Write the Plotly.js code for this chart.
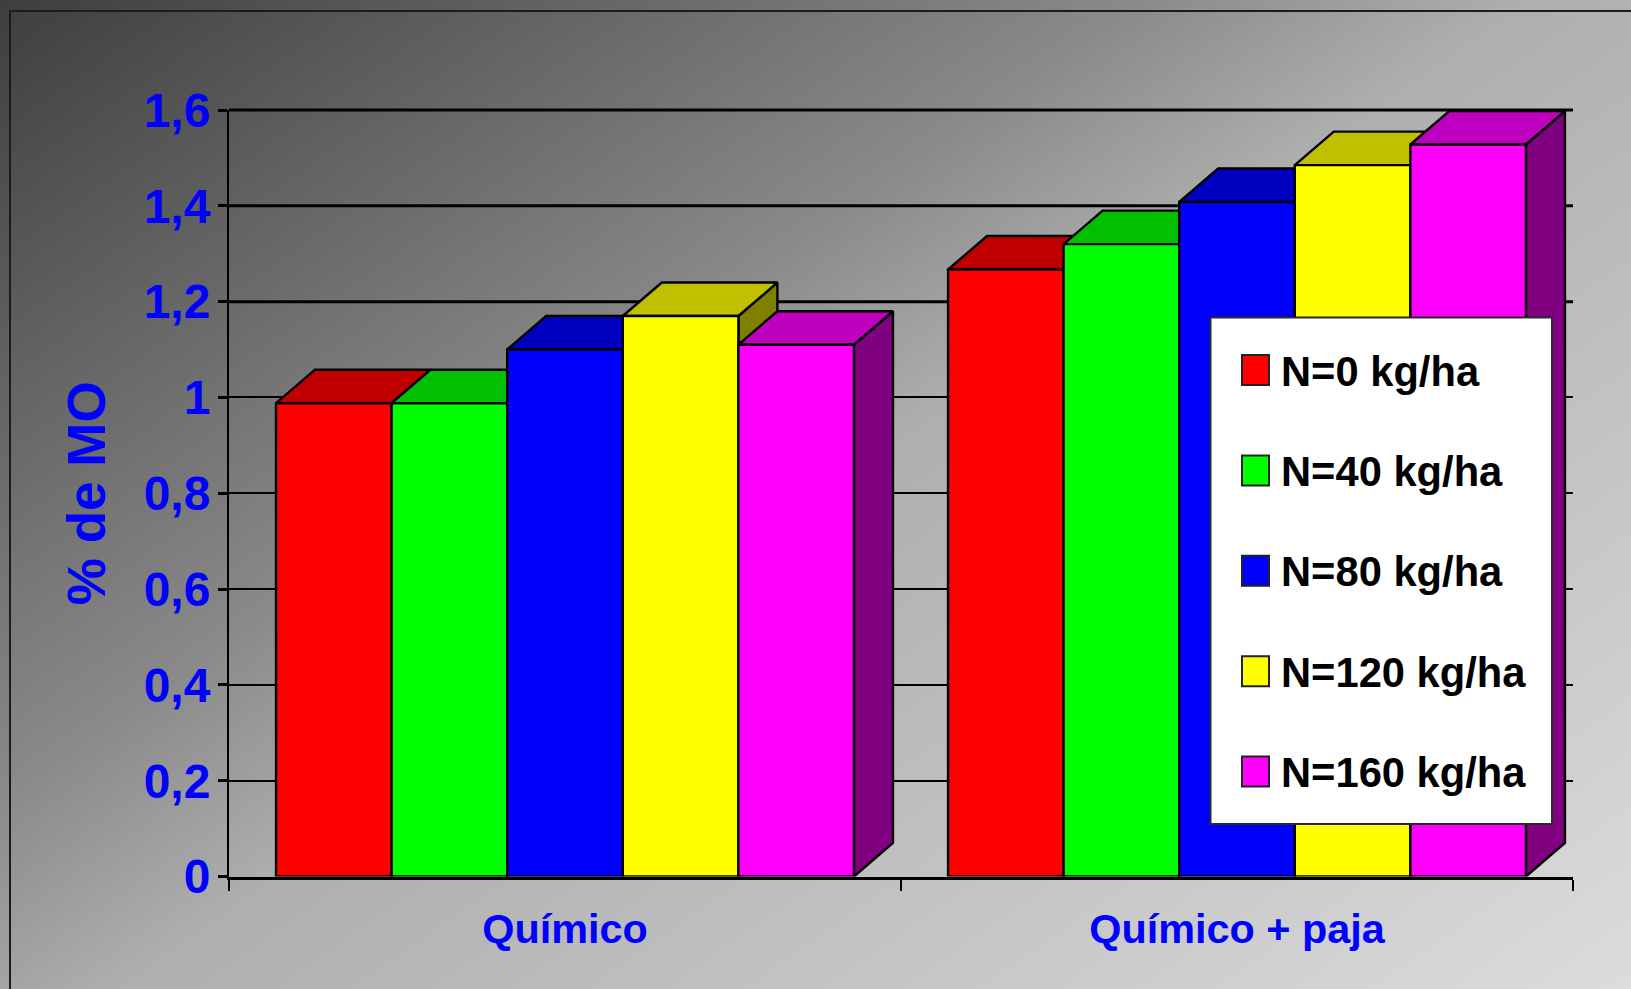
<!DOCTYPE html>
<html><head><meta charset="utf-8">
<script src="https://cdn.plot.ly/plotly-3.0.1.min.js"></script>
<style>
html,body{margin:0;padding:0;width:1631px;height:989px;overflow:hidden;
background:linear-gradient(145deg,#3e3e3e 0%,#8a8a8a 37.5%,#aeaeae 50%,#dcdcdc 100%);}
</style></head><body><div id="chart" style="width:1631px;height:989px"></div>
<script>
const categories = ['Químico', 'Químico + paja'];
const categoryPositions = [0.5, 1.5];
const seriesNames = ['N=0 kg/ha', 'N=40 kg/ha', 'N=80 kg/ha', 'N=120 kg/ha', 'N=160 kg/ha'];
const n0 = [0.988, 1.267];
const n40 = [0.988, 1.32];
const n80 = [1.10, 1.408];
const n120 = [1.17, 1.485];
const n160 = [1.11, 1.528];
const seriesValues = [n0, n40, n80, n120, n160];
const frontColors = ['#FF0000', '#00FF00', '#0000FF', '#FFFF00', '#FF00FF'];
const topColors = ['#C00000', '#00C000', '#0000C0', '#C0C000', '#C000C0'];
const sideColors = ['#800000', '#008000', '#000080', '#808000', '#800080'];
const yTicks = [0, 0.2, 0.4, 0.6, 0.8, 1, 1.2, 1.4, 1.6];
const yTickText = ['0', '0,2', '0,4', '0,6', '0,8', '1', '1,2', '1,4', '1,6'];
const heavyGridValues = [1.2, 1.4, 1.6];

const W = 1631, H = 989;
const L = 229, R = 1573, T = 110, B = 876.5;
const px = v => v / W, py = v => 1 - v / H;
const BLUE = '#0000FF', FONT = '"Liberation Sans", Arial, sans-serif';
const bargap = 0.14, barW = (1 - bargap) / 5;
const depthX = 39 / ((R - L) / 2), depthY = 33.5 / ((B - T) / 1.6);

const traces = [];
seriesValues.forEach((vals, s) => {
  const sx = [], sy = [], tx = [], ty = [];
  vals.forEach((v, c) => {
    const x0 = categoryPositions[c] + (s - 2.5) * barW, x1 = x0 + barW;
    sx.push(x1, x1 + depthX, x1 + depthX, x1, x1, null);
    sy.push(0, depthY, v + depthY, v, 0, null);
    tx.push(x0, x0 + depthX, x1 + depthX, x1, x0, null);
    ty.push(v, v + depthY, v + depthY, v, v, null);
  });
  const poly = (x, y, color) => ({
    type: 'scatter', mode: 'lines', x, y, fill: 'toself', fillcolor: color,
    line: {color: '#000', width: 2.4}, cliponaxis: false, showlegend: false,
    hoverinfo: 'skip', xaxis: 'x', yaxis: 'y'
  });
  traces.push(poly(sx, sy, sideColors[s]));
  traces.push(poly(tx, ty, topColors[s]));
});
seriesValues.forEach((vals, s) => {
  traces.push({
    type: 'bar', name: seriesNames[s], x: categoryPositions, y: vals,
    marker: {color: frontColors[s], line: {color: '#000', width: 2.4}},
    xaxis: 'x2', yaxis: 'y2', cliponaxis: false, showlegend: false
  });
});

const shapes = [{
  type: 'rect', xref: 'paper', yref: 'paper', layer: 'below',
  x0: px(10), x1: 1.02, y0: py(11), y1: -0.02,
  line: {color: '#1c1c1c', width: 2}, fillcolor: 'rgba(0,0,0,0)'
}, {
  type: 'rect', xref: 'paper', yref: 'paper', layer: 'above',
  x0: px(1210.5), x1: px(1552), y0: py(317.5), y1: py(824),
  line: {color: '#2a2a2a', width: 2}, fillcolor: '#FFFFFF'
}];
heavyGridValues.forEach(v => {
  const yPaper = py(B) + (py(T) - py(B)) * v / 1.6;
  shapes.push({
    type: 'line', xref: 'paper', yref: 'paper', layer: 'below',
    x0: px(L), x1: px(R), y0: yPaper, y1: yPaper, line: {color: '#000', width: 3}
  });
});
const annotations = [];
seriesNames.forEach((name, s) => {
  const top = 355 + s * 100.4;
  shapes.push({
    type: 'rect', xref: 'paper', yref: 'paper', layer: 'above',
    x0: px(1242), x1: px(1269), y0: py(top), y1: py(top + 30),
    line: {color: '#222', width: 2}, fillcolor: frontColors[s]
  });
  annotations.push({
    xref: 'paper', yref: 'paper', x: px(1279), y: py(top + 16),
    xanchor: 'left', yanchor: 'middle', showarrow: false, text: '<b>' + name + '</b>',
    font: {family: FONT, size: 41.7, color: '#000'}
  });
});

const layout = {
  width: W, height: H, margin: {l: 0, r: 0, t: 0, b: 0},
  paper_bgcolor: 'rgba(0,0,0,0)', plot_bgcolor: 'rgba(0,0,0,0)',
  barmode: 'group', bargap, bargroupgap: 0, showlegend: false,
  shapes, annotations,
  xaxis: {
    domain: [px(L), px(R)], range: [0, 2], tickmode: 'array', tickvals: [0, 1, 2],
    showticklabels: false, ticks: 'outside', ticklen: 11, tickwidth: 2, tickcolor: '#000',
    showline: true, linecolor: '#000', linewidth: 3, showgrid: false, zeroline: false,
    anchor: 'y'
  },
  yaxis: {
    domain: [py(B), py(T)], range: [0, 1.6], tickmode: 'array', tickvals: yTicks, ticktext: yTickText,
    ticks: 'outside', ticklen: 9, tickwidth: 3, tickcolor: '#000', ticklabelstandoff: -2,
    tickfont: {family: FONT, size: 48, color: BLUE, weight: 'bold'},
    showline: true, linecolor: '#000', linewidth: 2,
    showgrid: true, gridcolor: '#000', gridwidth: 2, zeroline: false, anchor: 'x',
    title: {text: '<b>% de MO</b>', standoff: 21, font: {family: FONT, size: 53, color: BLUE}}
  },
  xaxis2: {
    domain: [px(L), px(R)], range: [0, 2], overlaying: 'x', anchor: 'y2', side: 'bottom',
    tickmode: 'array', tickvals: categoryPositions, ticktext: categories,
    ticks: '', ticklabelstandoff: 24, showgrid: false, zeroline: false, showline: false,
    tickfont: {family: FONT, size: 41.4, color: BLUE, weight: 'bold'}
  },
  yaxis2: {
    domain: [py(B), py(T)], range: [0, 1.6], overlaying: 'y', anchor: 'x2',
    showticklabels: false, ticks: '', showgrid: false, zeroline: false, showline: false
  }
};
Plotly.newPlot('chart', traces, layout, {displayModeBar: false, staticPlot: true});
</script></body></html>
